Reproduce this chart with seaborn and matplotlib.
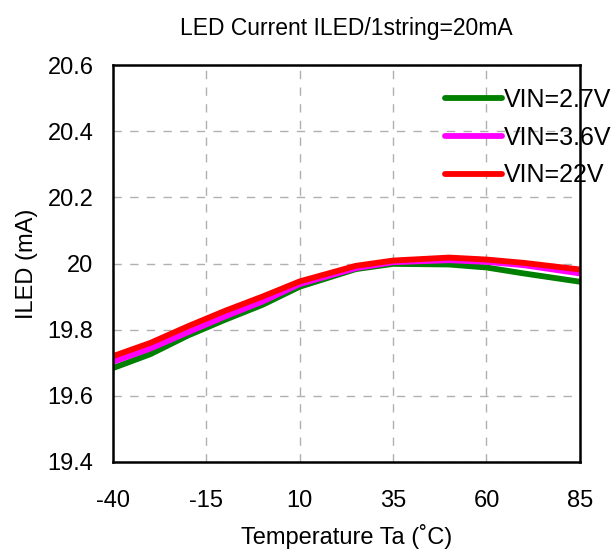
import matplotlib
matplotlib.use("Agg")
import matplotlib.pyplot as plt
import seaborn as sns
import pandas as pd

temps = [-40, -30, -20, -10, 0, 10, 25, 35, 50, 60, 70, 85]
vin_27 = [19.684, 19.726, 19.782, 19.830, 19.875, 19.930, 19.983, 19.999, 19.997, 19.988, 19.970, 19.945]
vin_36 = [19.703, 19.743, 19.792, 19.840, 19.885, 19.938, 19.986, 20.004, 20.010, 20.005, 19.995, 19.970]
vin_22 = [19.720, 19.760, 19.810, 19.857, 19.900, 19.946, 19.993, 20.009, 20.018, 20.012, 20.002, 19.982]
series_names = ["VIN=2.7V", "VIN=3.6V", "VIN=22V"]
colors = ["#008000", "#ff00ff", "#ff0000"]
xticks = [-40, -15, 10, 35, 60, 85]
yticks = [19.4, 19.6, 19.8, 20.0, 20.2, 20.4, 20.6]
ytick_labels = ["19.4", "19.6", "19.8", "20", "20.2", "20.4", "20.6"]

rows = []
for name, vals in zip(series_names, [vin_27, vin_36, vin_22]):
    for t, v in zip(temps, vals):
        rows.append({"Temp": t, "ILED": v, "VIN": name})
df = pd.DataFrame(rows)

sns.set_style("white")
plt.rcParams["font.family"] = ["Liberation Sans", "DejaVu Sans"]
plt.rcParams["axes.unicode_minus"] = False
plt.rcParams["text.color"] = "black"
plt.rcParams["axes.labelcolor"] = "black"

fig = plt.figure(figsize=(6.11, 5.49), dpi=100)
ax = fig.add_axes([0.185, 0.1585, 0.764, 0.723])

sns.lineplot(data=df, x="Temp", y="ILED", hue="VIN", hue_order=series_names,
             palette=colors, linewidth=4.2, ax=ax, legend=True)

ax.set_xlim(-40, 85)
ax.set_ylim(19.4, 20.6)
ax.set_xticks(xticks)
ax.set_yticks(yticks)
ax.set_yticklabels(ytick_labels)
ax.grid(True, color="#b0b0b0", linestyle=(0, (6, 6)), linewidth=1.0)
for s in ax.spines.values():
    s.set_visible(True)
    s.set_color("black")
    s.set_linewidth(1.8)
ax.tick_params(axis="both", labelsize=17, direction="in", length=5, width=1, colors="black")
ax.tick_params(axis="y", pad=14)
ax.tick_params(axis="x", length=0, pad=20)
ax.set_xlabel("Temperature Ta (˚C)", fontsize=17, labelpad=9)
ax.set_ylabel("ILED (mA)", fontsize=17, labelpad=7)
ax.set_title("LED Current ILED/1string=20mA", fontsize=16.5, pad=22)

leg = ax.legend(loc="upper right", frameon=False, fontsize=18, handlelength=2.3,
                handletextpad=0.05, labelspacing=0.55, borderaxespad=0.0,
                bbox_to_anchor=(1.088, 0.968))

fig.savefig("out.png", dpi=100)
